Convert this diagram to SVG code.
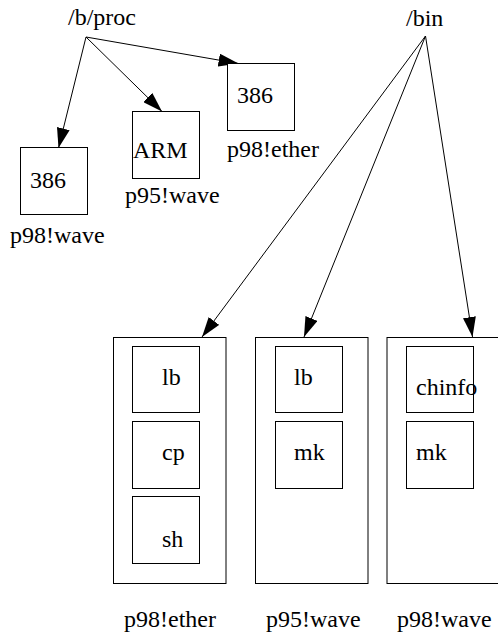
<svg xmlns="http://www.w3.org/2000/svg" width="498" height="634" viewBox="0 0 498 634">
<style>
.t{font-family:'Liberation Serif','Times New Roman',Times,serif;font-size:24px;fill:#000}
rect{fill:#fff;stroke:#000;stroke-width:1}
.e{stroke:#000;stroke-width:1;fill:none}
</style>
<defs>
<marker id="ah" viewBox="0 0 20 13" markerWidth="20" markerHeight="13" refX="20" refY="6.5" orient="auto" markerUnits="userSpaceOnUse">
<path d="M0,0 L20,6.5 L0,13 z" fill="#000"/>
</marker>
</defs>
<g id="edges">
<line class="e" x1="86" y1="37" x2="58.5" y2="148" marker-end="url(#ah)"/>
<line class="e" x1="86" y1="37" x2="162" y2="111.5" marker-end="url(#ah)"/>
<line class="e" x1="86" y1="37" x2="238.5" y2="63.5" marker-end="url(#ah)"/>
<line class="e" x1="425.5" y1="36" x2="202" y2="337" marker-end="url(#ah)"/>
<line class="e" x1="425.5" y1="36" x2="304" y2="337" marker-end="url(#ah)"/>
<line class="e" x1="425.5" y1="36" x2="472.5" y2="337" marker-end="url(#ah)"/>
</g>
<g class="t" font-family="Liberation Serif, serif" font-size="24">
<g id="bproc"><text x="68" y="25">/b/proc</text></g>
<g id="bin"><text x="406" y="26">/bin</text></g>
<g id="wave98">
<rect x="20.5" y="147.5" width="67" height="67"/>
<text x="30" y="188">386</text>
<text x="10" y="243">p98!wave</text>
</g>
<g id="wave95">
<rect x="132.5" y="111.5" width="67" height="67"/>
<text x="133" y="158">ARM</text>
<text x="125" y="203">p95!wave</text>
</g>
<g id="ether98">
<rect x="227.5" y="63.5" width="67" height="67"/>
<text x="237" y="103">386</text>
<text x="227" y="157">p98!ether</text>
</g>
<g id="cluster-ether">
<rect x="113.5" y="337.5" width="112.5" height="246"/>
<rect x="132.5" y="346.5" width="67" height="66"/>
<text x="162" y="385">lb</text>
<rect x="132.5" y="421.5" width="67" height="67"/>
<text x="162" y="460">cp</text>
<rect x="132.5" y="496.5" width="67" height="67"/>
<text x="162" y="547">sh</text>
<text x="124" y="627">p98!ether</text>
</g>
<g id="cluster-wave95">
<rect x="255.5" y="337.5" width="112.5" height="246"/>
<rect x="275.5" y="346.5" width="67" height="66"/>
<text x="294" y="385">lb</text>
<rect x="275.5" y="421.5" width="67" height="67"/>
<text x="294" y="460">mk</text>
<text x="266" y="627">p95!wave</text>
</g>
<g id="cluster-wave98">
<rect x="387" y="337.5" width="113" height="246"/>
<rect x="406.5" y="346.5" width="67" height="66"/>
<text x="416" y="395">chinfo</text>
<rect x="406.5" y="421.5" width="67" height="67"/>
<text x="416" y="460">mk</text>
<text x="397" y="627">p98!wave</text>
</g>
</g>
</svg>
